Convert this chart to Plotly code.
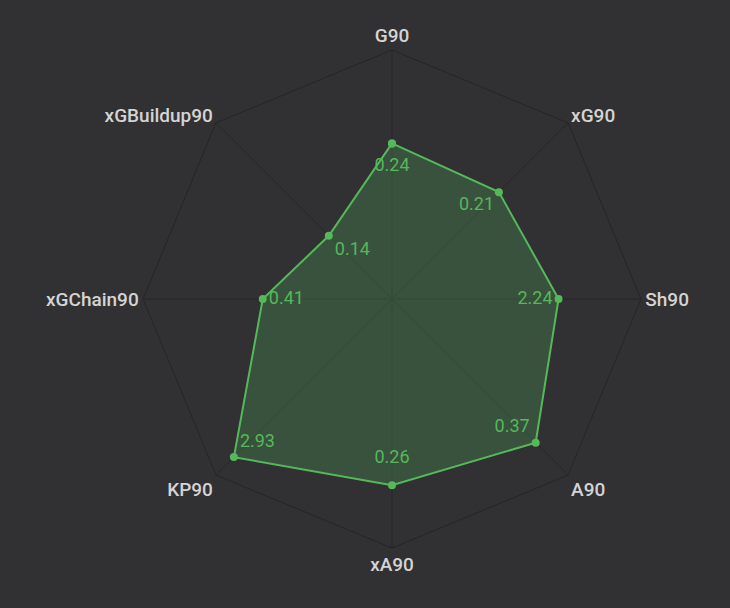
import plotly.graph_objects as go

metrics = ["G90", "xG90", "Sh90", "A90", "xA90", "KP90", "xGChain90", "xGBuildup90"]
value_labels = ["0.24", "0.21", "2.24", "0.37", "0.26", "2.93", "0.41", "0.14"]
# share of each axis' scale (0..1)
radar_score = [0.625, 0.607, 0.669, 0.816, 0.748, 0.898, 0.519, 0.359]
label_positions = [
    "bottom center", "bottom left", "middle left", "top left",
    "top center", "top right", "middle right", "bottom right",
]
# invisible marker sizes, only used to push each value label off its point
label_gap = [21, 6, 8, 8, 27, 8, 8, 8]

BG = "#313133"
GRID = "#262628"
GREEN = "#55b85a"

fig = go.Figure()
fig.add_trace(
    go.Scatterpolar(
        r=radar_score + radar_score[:1],
        theta=metrics + metrics[:1],
        mode="lines+markers",
        fill="toself",
        fillcolor="rgba(85,184,90,0.25)",
        line={"color": GREEN, "width": 2},
        marker={"color": GREEN, "size": 8},
        hoverinfo="skip",
        showlegend=False,
    )
)
fig.add_trace(
    go.Scatterpolar(
        r=radar_score,
        theta=metrics,
        text=value_labels,
        textposition=label_positions,
        mode="markers+text",
        marker={"size": label_gap, "opacity": 0},
        textfont={"family": "Roboto", "size": 18, "color": GREEN},
        hoverinfo="skip",
        showlegend=False,
    )
)
fig.update_layout(
    width=730,
    height=608,
    margin={"l": 143, "r": 89, "t": 50, "b": 60},
    paper_bgcolor=BG,
    plot_bgcolor=BG,
    polar={
        "bgcolor": BG,
        "gridshape": "linear",
        "domain": {"x": [0, 1], "y": [0, 1]},
        "radialaxis": {"visible": False, "range": [0, 1]},
        "angularaxis": {
            "rotation": 90,
            "direction": "clockwise",
            "showline": True,
            "linecolor": GRID,
            "linewidth": 1,
            "gridcolor": GRID,
            "ticks": "",
            "tickfont": {"family": "Roboto", "size": 19, "color": "#d4d4d4", "weight": 500},
        },
    },
)
# drop the page's default body margin so the dark canvas fills the window
fig.write_html(
    "out.html",
    config={"displayModeBar": False},
    post_script="document.body.style.margin='0';document.body.style.background='#313133';",
)
